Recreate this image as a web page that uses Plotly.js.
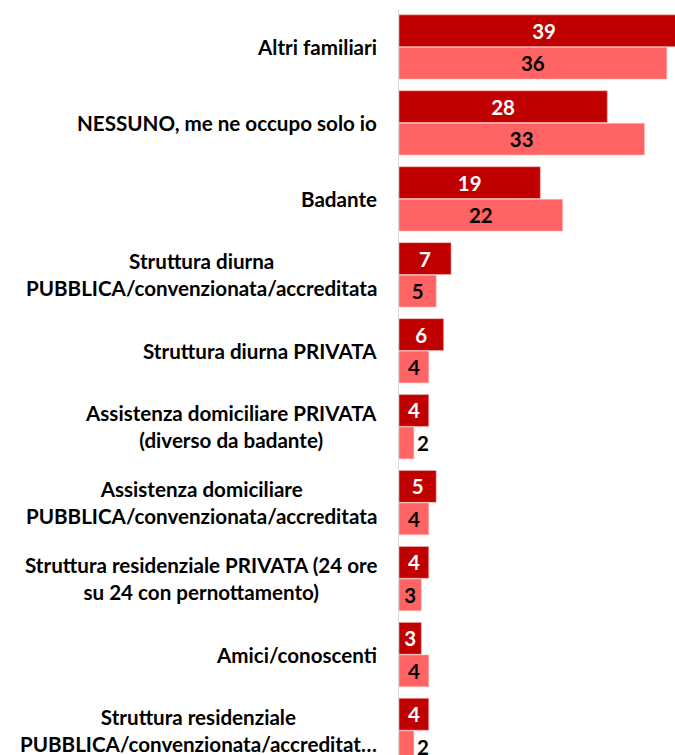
<!DOCTYPE html>
<html>
<head>
<meta charset="utf-8">
<script src="https://cdn.plot.ly/plotly-3.0.1.min.js"></script>
<style>html,body{margin:0;padding:0;background:#fff;overflow:hidden}</style>
</head>
<body>
<div id="chart" style="width:675px;height:755px"></div>
<script>
const categories = [
  "Altri familiari",
  "NESSUNO, me ne occupo solo io",
  "Badante",
  "Struttura diurna<br>PUBBLICA/convenzionata/accreditata",
  "Struttura diurna PRIVATA",
  "Assistenza domiciliare PRIVATA<br>(diverso da badante)",
  "Assistenza domiciliare<br>PUBBLICA/convenzionata/accreditata",
  "Struttura residenziale PRIVATA (24 ore<br>su 24 con pernottamento)",
  "Amici/conoscenti",
  "Struttura residenziale<br>PUBBLICA/convenzionata/accreditat…"
];
const series1 = [39, 28, 19, 7, 6, 4, 5, 4, 3, 4];
const series2 = [36, 33, 22, 5, 4, 2, 4, 3, 4, 2];

const FONT = "Lato, 'Liberation Sans', sans-serif";
const traces = [
  {
    type: "bar", orientation: "h", y: categories, x: series1,
    marker: {color: "#C00000", line: {color: "#f4b6b6", width: 0.6}},
    text: series1.map(String), textposition: "auto",
    insidetextanchor: "middle",
    insidetextfont: {family: FONT, size: 20.5, color: "#ffffff", weight: "bold"},
    outsidetextfont: {family: FONT, size: 20.5, color: "#000000", weight: "bold"},
    hoverinfo: "skip", cliponaxis: true
  },
  {
    type: "bar", orientation: "h", y: categories, x: series2,
    marker: {color: "#FF6363", line: {color: "#ffc0c0", width: 0.6}},
    text: series2.map(String), textposition: "auto",
    insidetextanchor: "middle",
    insidetextfont: {family: FONT, size: 20.5, color: "#000000", weight: "bold"},
    outsidetextfont: {family: FONT, size: 20.5, color: "#000000", weight: "bold"},
    hoverinfo: "skip", cliponaxis: true
  }
];

const annotations = categories.map(c => ({
  xref: "paper", yref: "y", x: 0, y: c, text: "<b>" + c + "</b>",
  xanchor: "right", yanchor: "middle", align: "center", xshift: -20,
  showarrow: false, font: {family: FONT, size: 20.6, color: "#000000"}
}));

const layout = {
  width: 675, height: 755,
  margin: {l: 399, r: 0, t: 8.5, b: 0, pad: 0},
  paper_bgcolor: "#ffffff", plot_bgcolor: "#ffffff",
  barmode: "group", bargap: 0.145, bargroupgap: 0.02,
  showlegend: false,
  xaxis: {range: [0, 37.1], showgrid: false, zeroline: false, showticklabels: false, showline: false, fixedrange: true},
  yaxis: {type: "category", range: [9.5 - 13.5/76, -0.5], showticklabels: false, showgrid: false,
          zeroline: false, showline: true, linecolor: "#d9d9d9", linewidth: 1, ticks: "", fixedrange: true},
  annotations: annotations,
  font: {family: FONT}
};

Plotly.newPlot("chart", traces, layout, {displayModeBar: false, staticPlot: true});
</script>
</body>
</html>
